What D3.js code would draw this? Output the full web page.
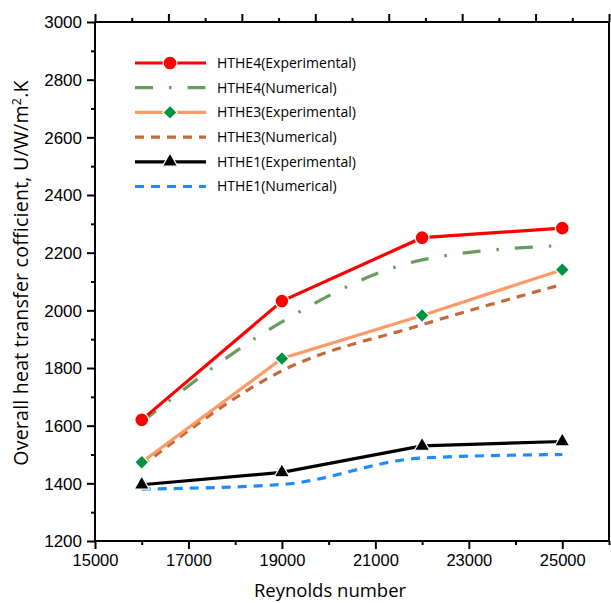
<!DOCTYPE html>
<html>
<head>
<meta charset="utf-8">
<script src="https://cdn.jsdelivr.net/npm/d3@7"></script>
<style>
  body { margin: 0; background: #fff; }
  svg { font-family: "Open Sans", sans-serif; }
</style>
</head>
<body>
<svg width="611" height="603"></svg>
<script>
// Reynolds numbers
const reynolds = [16000, 19000, 22000, 25000];

// overall heat transfer coefficient, U (W/m2.K)
const hthe4Exp = [1620, 2032, 2252, 2285];
const hthe4Num = [1612, 1960, 2175, 2225];
const hthe3Exp = [1473, 1833, 1982, 2141];
const hthe3Num = [1460, 1790, 1950, 2090];
const hthe1Exp = [1395, 1438, 1530, 1545];
const hthe1Num = [1380, 1396, 1488, 1500];

const xTicks = [15000, 17000, 19000, 21000, 23000, 25000];
const yTicks = [1200, 1400, 1600, 1800, 2000, 2200, 2400, 2600, 2800, 3000];

const series = [
  {name: 'HTHE4(Experimental)', values: hthe4Exp, color: '#ff0000', dash: null, marker: 'circle', mcolor: '#ff0000', smooth: false},
  {name: 'HTHE4(Numerical)', values: hthe4Num, color: '#6a9c60', dash: '18,16,2.5,16', marker: null, smooth: true},
  {name: 'HTHE3(Experimental)', values: hthe3Exp, color: '#ff9a66', dash: null, marker: 'diamond', mcolor: '#00923f', smooth: false},
  {name: 'HTHE3(Numerical)', values: hthe3Num, color: '#c8683a', dash: '9,7', marker: null, smooth: true},
  {name: 'HTHE1(Experimental)', values: hthe1Exp, color: '#000000', dash: null, marker: 'triangle', mcolor: '#000000', smooth: false},
  {name: 'HTHE1(Numerical)', values: hthe1Num, color: '#1e8cff', dash: '9,7', marker: null, smooth: true}
];

const svg = d3.select('svg'),
      margin = {top: 22, right: 2, bottom: 62, left: 95},
      width = +svg.attr('width') - margin.left - margin.right,
      height = +svg.attr('height') - margin.top - margin.bottom,
      g = svg.append('g').attr('transform', 'translate(' + margin.left + ',' + margin.top + ')');

const x = d3.scaleLinear().domain([15000, 26000]).range([0, width]);
const y = d3.scaleLinear().domain([1200, 3000]).range([height, 0]);

// bottom axis: minor ticks every 1000
const xAxis = g.append('g').attr('transform', 'translate(0,' + height + ')');
xAxis.call(d3.axisBottom(x).tickValues(d3.range(15000, 26001, 1000)).tickSize(4).tickFormat(''));
xAxis.selectAll('.tick line').filter(d => xTicks.includes(d)).attr('y2', 8);
xAxis.selectAll('.tick').filter(d => xTicks.includes(d)).append('text')
    .attr('fill', '#000').attr('y', 13).attr('dy', '0.71em')
    .style('font-size', '16.5px').text(d => d);

// left axis
const yAxis = g.append('g');
yAxis.call(d3.axisLeft(y).tickValues(d3.range(1200, 3001, 100)).tickSize(4).tickFormat(''));
yAxis.selectAll('.tick line').filter(d => yTicks.includes(d)).attr('x2', -8);
yAxis.selectAll('.tick').filter(d => yTicks.includes(d)).append('text')
    .attr('fill', '#000').attr('x', -13).attr('dy', '0.34em')
    .attr('text-anchor', 'end').style('font-size', '17px').text(d => d);

// top axis: its own spacing (14 intervals)
const xTop = d3.scaleLinear().domain([0, 14]).range([0, width]);
const topAxis = g.append('g');
topAxis.call(d3.axisTop(xTop).tickValues(d3.range(0, 15)).tickSize(4).tickFormat(''));
topAxis.selectAll('.tick line').filter(d => d % 2 === 0).attr('y2', -8);

// right axis, no ticks
g.append('line').attr('class', 'frame')
    .attr('x1', width).attr('x2', width).attr('y1', 0).attr('y2', height)
    .attr('stroke', '#000').attr('stroke-width', 2);

g.selectAll('.tick line').attr('stroke-width', 2);

// plain domain lines without end caps
xAxis.select('.domain').attr('d', 'M0,0H' + width).attr('stroke-width', 2);
yAxis.select('.domain').attr('d', 'M0,0V' + height).attr('stroke-width', 2);
topAxis.select('.domain').attr('d', 'M0,0H' + width).attr('stroke-width', 2);

// axis titles
svg.append('text')
    .attr('x', 330).attr('y', 597)
    .attr('text-anchor', 'middle').style('font-size', '18.5px')
    .text('Reynolds number');

const yl = svg.append('text')
    .attr('transform', 'translate(28,273) rotate(-90)')
    .attr('text-anchor', 'middle').style('font-size', '19.5px')
    .style('letter-spacing', '0.25px');
yl.append('tspan').text('Overall heat transfer cofficient, U/W/m');
yl.append('tspan').attr('dy', -7).style('font-size', '12.5px').text('2');
yl.append('tspan').attr('dy', 7).text('.K');

// data lines
const pts = s => reynolds.map((r, i) => [r, s.values[i]]);
const lineStraight = d3.line().x(d => x(d[0])).y(d => y(d[1]));
const lineSmooth = d3.line().x(d => x(d[0])).y(d => y(d[1])).curve(d3.curveMonotoneX);

const plot = g.append('g');
series.slice().reverse().forEach(s => {
  plot.append('path')
      .datum(pts(s))
      .attr('fill', 'none')
      .attr('stroke', s.color)
      .attr('stroke-width', 3.2)
      .attr('stroke-dasharray', s.dash)
      .attr('d', s.smooth ? lineSmooth : lineStraight);
});

const symbolFor = m => m === 'circle' ? d3.symbol(d3.symbolCircle, 150)
                    : m === 'diamond' ? d3.symbol(d3.symbolSquare, 100)
                    : d3.symbol(d3.symbolTriangle, 100);

series.forEach(s => {
  if (!s.marker) return;
  plot.selectAll(null)
      .data(pts(s))
      .enter().append('path')
      .attr('transform', d => 'translate(' + x(d[0]) + ',' + y(d[1]) + ')' + (s.marker === 'diamond' ? ' rotate(45)' : ''))
      .attr('d', symbolFor(s.marker)())
      .attr('fill', s.mcolor)
      .attr('stroke', '#fff')
      .attr('stroke-width', 1.2);
});

// legend
const legend = svg.append('g').attr('transform', 'translate(135,63)');
const rowH = 24.7;
series.forEach((s, i) => {
  const row = legend.append('g').attr('transform', 'translate(0,' + (i * rowH) + ')');
  row.append('line')
      .attr('x1', 0).attr('x2', 71)
      .attr('stroke', s.color).attr('stroke-width', 3.2)
      .attr('stroke-dasharray', s.dash);
  if (s.marker) {
    row.append('path')
        .attr('transform', 'translate(35,0)' + (s.marker === 'diamond' ? ' rotate(45)' : ''))
        .attr('d', symbolFor(s.marker)())
        .attr('fill', s.mcolor)
        .attr('stroke', '#fff').attr('stroke-width', 1.2);
  }
  row.append('text')
      .attr('x', 82).attr('dy', '0.35em')
      .style('font-size', '14px')
      .text(s.name);
});
</script>
</body>
</html>
